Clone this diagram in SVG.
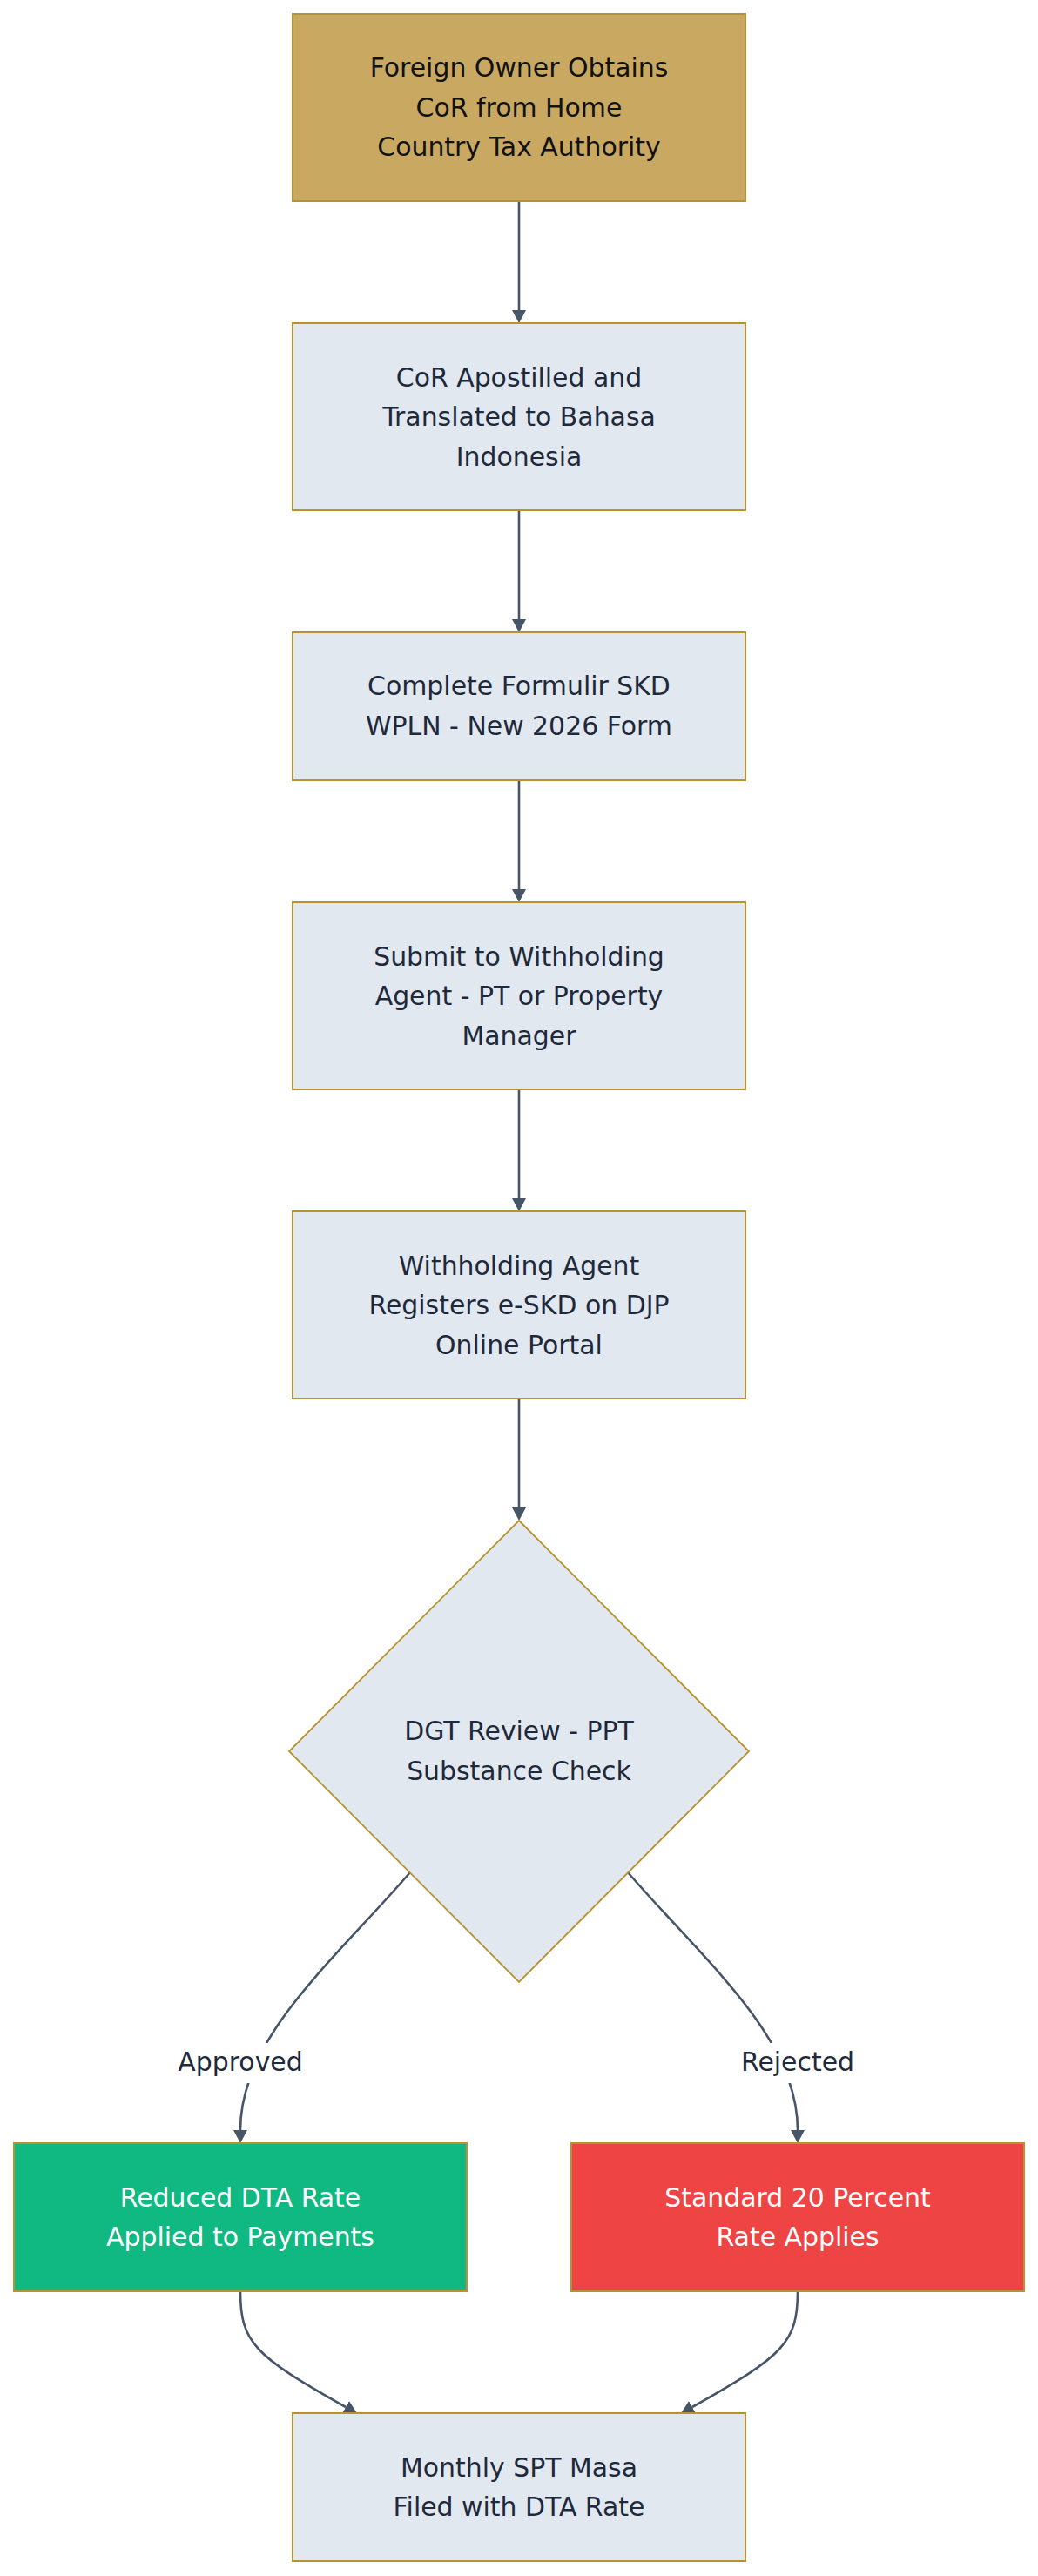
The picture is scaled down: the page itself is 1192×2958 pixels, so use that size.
<svg xmlns="http://www.w3.org/2000/svg" width="1192" height="2958" viewBox="0 0 1192 2958">
<defs>
<style>
text{font-family:"DejaVu Sans","Liberation Sans",sans-serif;font-size:29.9px;text-anchor:middle;fill:#1E293B}
.node{stroke:#B8922E;stroke-width:2}
.light{fill:#E2E8F0}
.gold{fill:#C9A862}
.green{fill:#10B981}
.red{fill:#EF4444}
.dark text{fill:#111111}
.white text, text.white{fill:#FFFFFF}
.edge{fill:none;stroke:#475569;stroke-width:2.6}
</style>
<marker id="arr" markerUnits="userSpaceOnUse" viewBox="0 0 15 16" markerWidth="15" markerHeight="16" refX="0" refY="8" orient="auto">
<path d="M0,0 L15,8 L0,16 z" fill="#475569"/>
</marker>
</defs>
<rect width="1192" height="2958" fill="#FFFFFF"/>
<g id="connectors">
<path class="edge" d="M596,231 V356" marker-end="url(#arr)"/>
<path class="edge" d="M596,586 V711" marker-end="url(#arr)"/>
<path class="edge" d="M596,896 V1021" marker-end="url(#arr)"/>
<path class="edge" d="M596,1251 V1376" marker-end="url(#arr)"/>
<path class="edge" d="M596,1606 V1731" marker-end="url(#arr)"/>
<path class="edge" d="M471,2150 C380,2255 276,2340 276,2446" marker-end="url(#arr)"/>
<path class="edge" d="M721,2150 C812,2255 916,2340 916,2446" marker-end="url(#arr)"/>
<path class="edge" d="M276,2631 C276,2690 292,2705 397,2764" marker-end="url(#arr)"/>
<path class="edge" d="M916,2631 C916,2690 900,2705 795,2764" marker-end="url(#arr)"/>
<g id="label-approved">
<rect x="200" y="2346" width="152" height="46" fill="#FFFFFF"/>
<text x="276" y="2378">Approved</text>
</g>
<g id="label-rejected">
<rect x="846" y="2346" width="140" height="46" fill="#FFFFFF"/>
<text x="916" y="2378">Rejected</text>
</g>
</g>
<g id="n1" class="dark">
<rect class="node gold" x="336" y="16" width="520" height="215"/>
<text x="596" y="88">Foreign Owner Obtains</text>
<text x="596" y="133.5">CoR from Home</text>
<text x="596" y="179">Country Tax Authority</text>
</g>
<g id="n2">
<rect class="node light" x="336" y="371" width="520" height="215"/>
<text x="596" y="443.5">CoR Apostilled and</text>
<text x="596" y="489">Translated to Bahasa</text>
<text x="596" y="534.5">Indonesia</text>
</g>
<g id="n3">
<rect class="node light" x="336" y="726" width="520" height="170"/>
<text x="596" y="798">Complete Formulir SKD</text>
<text x="596" y="843.5">WPLN - New 2026 Form</text>
</g>
<g id="n4">
<rect class="node light" x="336" y="1036" width="520" height="215"/>
<text x="596" y="1108.5">Submit to Withholding</text>
<text x="596" y="1154">Agent - PT or Property</text>
<text x="596" y="1199.5">Manager</text>
</g>
<g id="n5">
<rect class="node light" x="336" y="1391" width="520" height="215"/>
<text x="596" y="1463.5">Withholding Agent</text>
<text x="596" y="1509">Registers e-SKD on DJP</text>
<text x="596" y="1554.5">Online Portal</text>
</g>
<g id="n6">
<polygon class="node light" points="596,1746 860,2011 596,2276 332,2011" style="stroke-width:1.8"/>
<text x="596" y="1998">DGT Review - PPT</text>
<text x="596" y="2043.5">Substance Check</text>
</g>
<g id="n7" class="white">
<rect class="node green" x="16" y="2461" width="520" height="170"/>
<text x="276" y="2533.5">Reduced DTA Rate</text>
<text x="276" y="2579">Applied to Payments</text>
</g>
<g id="n8" class="white">
<rect class="node red" x="656" y="2461" width="520" height="170"/>
<text x="916" y="2533.5">Standard 20 Percent</text>
<text x="916" y="2579">Rate Applies</text>
</g>
<g id="n9">
<rect class="node light" x="336" y="2771" width="520" height="170"/>
<text x="596" y="2843.5">Monthly SPT Masa</text>
<text x="596" y="2889">Filed with DTA Rate</text>
</g>
</svg>
